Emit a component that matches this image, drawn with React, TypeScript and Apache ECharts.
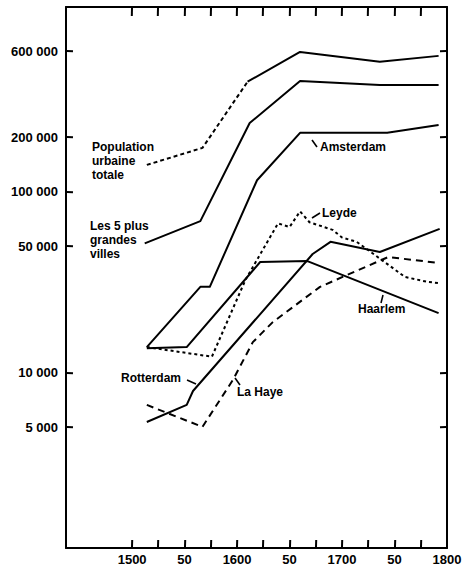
import React, { useEffect, useRef } from "react";
import * as echarts from "echarts";

// Population urbaine totale (dashed part, then solid part)
const totalDashedYears = [1514, 1567, 1610];
const totalDashedValues = [141000, 175000, 406000];
const totalYears = [1610, 1660, 1736, 1792];
const totalValues = [406000, 593000, 523000, 564000];

// Les 5 plus grandes villes
const fiveYears = [1512, 1565, 1612, 1660, 1736, 1792];
const fiveValues = [52000, 69000, 240000, 410000, 390000, 390000];

// Amsterdam
const amsYears = [1514, 1565, 1574, 1619, 1660, 1743, 1792];
const amsValues = [13900, 29900, 29900, 116000, 212000, 212000, 234000];

// Haarlem
const haaYears = [1514, 1552, 1622, 1667, 1792];
const haaValues = [13700, 13900, 41000, 41500, 21400];

// Leyde
const leyYears = [1514, 1576, 1608, 1639, 1650, 1660, 1669, 1691, 1700, 1714, 1738, 1760, 1782, 1792];
const leyValues = [13900, 12300, 32700, 67000, 64000, 78000, 68000, 61700, 56000, 53000, 42000, 33900, 31800, 31400];

// Rotterdam
const rotYears = [1514, 1552, 1558, 1672, 1689, 1736, 1793];
const rotValues = [5360, 6660, 7950, 45400, 53000, 46600, 62500];

// La Haye
const hayYears = [1514, 1567, 1596, 1615, 1634, 1679, 1744, 1792];
const hayValues = [6660, 5040, 9150, 14800, 19100, 29900, 43700, 40500];

// Axes
const xTickValues = [1500, 1525, 1550, 1575, 1600, 1625, 1650, 1675, 1700, 1725, 1750, 1775];
const xLabelValues = [1500, 1550, 1600, 1650, 1700, 1750, 1800];
const yTickValues = [5000, 10000, 50000, 100000, 200000, 600000];
const xMin = 1437;
const xMax = 1800;
const yMin = 1080;
const yMax = 1050000;

const pairs = (xs: number[], ys: number[]) => xs.map((x, i) => [x, ys[i]]);
const fmtY = (v: number) => String(Math.round(v)).replace(/\B(?=(\d{3})+(?!\d))/g, " ");
const fmtX = (v: number) => (Math.round(v) % 100 === 0 ? String(Math.round(v)) : "50");

const FONT = '"Liberation Sans", Arial, sans-serif';
const annFont = `bold 12px ${FONT}`;

function lineSeries(name: string, xs: number[], ys: number[], type: any, dash?: number[]) {
  return {
    name,
    type: "line",
    data: pairs(xs, ys),
    symbol: "none",
    lineStyle: { color: "#000", width: 2, type: dash ? dash : type, cap: "butt", join: "round" },
    z: 3,
  };
}

function txt(text: string, x: number, y: number) {
  return {
    type: "text",
    style: { text, x, y, font: annFont, fill: "#000", lineHeight: 14, textAlign: "left", align: "left", textVerticalAlign: "top", verticalAlign: "top" },
    z: 10,
  };
}

function seg(x1: number, y1: number, x2: number, y2: number, w: number) {
  return { type: "polyline", shape: { points: [[x1, y1], [x2, y2]] }, style: { stroke: "#000", lineWidth: w, fill: null }, z: 10 };
}

const annotations = [
  txt("Population\nurbaine\ntotale", 92, 140),
  txt("Amsterdam", 320, 140),
  seg(312, 140, 317, 147, 1.6),
  txt("Les 5 plus\ngrandes\nvilles", 90, 219),
  txt("Leyde", 322, 206),
  seg(312, 218, 320, 213, 1.6),
  txt("Haarlem", 358, 302),
  seg(383, 295, 381, 303, 1.6),
  txt("Rotterdam", 121, 371),
  seg(187, 380, 196, 384, 1.6),
  txt("La Haye", 237, 385),
  seg(235, 378, 240, 385, 1.6),
];

export default function App() {
  const ref = useRef<HTMLDivElement>(null);
  useEffect(() => {
    if (!ref.current) return;
    const chart = echarts.init(ref.current, undefined, { renderer: "svg" });
    const axisLine = { show: true, onZero: false, lineStyle: { color: "#000", width: 2 } };

    chart.setOption({
      animation: false,
      backgroundColor: "#fff",
      grid: { left: 66, right: 19, top: 7, bottom: 21, show: false },
      xAxis: [
        {
          type: "value", min: xMin, max: xMax, position: "bottom", axisLine,
          splitLine: { show: false }, axisTick: { show: false },
          axisLabel: { show: true, customValues: xLabelValues, formatter: (v: number) => fmtX(v), color: "#000", fontSize: 13, fontWeight: "bold", fontFamily: FONT, margin: 5 },
        },
        { type: "value", min: xMin, max: xMax, position: "top", axisLine, splitLine: { show: false }, axisTick: { show: false }, axisLabel: { show: false } },
      ],
      yAxis: [
        {
          type: "log", logBase: 10, min: yMin, max: yMax, position: "left", axisLine,
          splitLine: { show: false }, minorTick: { show: false }, axisTick: { show: false },
          axisLabel: { show: true, customValues: yTickValues, formatter: (v: number) => fmtY(v), color: "#000", fontSize: 13, fontWeight: "bold", fontFamily: FONT, margin: 8 },
        },
        { type: "log", logBase: 10, min: yMin, max: yMax, position: "right", axisLine, splitLine: { show: false }, minorTick: { show: false }, axisTick: { show: false }, axisLabel: { show: false } },
      ],
      series: [
        lineSeries("Population urbaine totale (a)", totalDashedYears, totalDashedValues, "dashed", [4, 3]),
        lineSeries("Population urbaine totale", totalYears, totalValues, "solid"),
        lineSeries("Les 5 plus grandes villes", fiveYears, fiveValues, "solid"),
        lineSeries("Amsterdam", amsYears, amsValues, "solid"),
        lineSeries("Haarlem", haaYears, haaValues, "solid"),
        lineSeries("Leyde", leyYears, leyValues, "dotted", [3, 3]),
        lineSeries("Rotterdam", rotYears, rotValues, "solid"),
        lineSeries("La Haye", hayYears, hayValues, "dashed", [7, 5]),
      ],
      graphic: annotations,
    });

    // Ticks on all four sides, positioned through the chart's own scales
    const toPx = (x: number, y: number) => chart.convertToPixel({ gridIndex: 0 }, [x, y]) as any;
    const ticks: any[] = [];
    xTickValues.forEach((v) => {
      const b = toPx(v, yMin);
      const t = toPx(v, yMax);
      const bx = Math.round(b[0]) + 0.5;
      const tx = Math.round(t[0]) + 0.5;
      ticks.push(seg(bx - 0.5, Math.round(b[1]) - 1, bx - 0.3, Math.round(b[1]) - 8, 2));
      ticks.push(seg(tx - 0.5, Math.round(t[1]) + 1, tx - 0.7, Math.round(t[1]) + 9, 2));
    });
    yTickValues.forEach((v) => {
      const l = toPx(xMin, v);
      const r = toPx(xMax, v);
      const ly = Math.round(l[1]);
      const ry = Math.round(r[1]);
      ticks.push(seg(Math.round(l[0]) + 1, ly, Math.round(l[0]) + 7, ly + 0.2, 2));
      ticks.push(seg(Math.round(r[0]) - 1, ry, Math.round(r[0]) - 7, ry + 0.2, 2));
    });
    chart.setOption({ graphic: [...annotations, ...ticks] });

    return () => chart.dispose();
  }, []);
  return <div ref={ref} style={{ position: "fixed", left: 0, top: 0, width: 466, height: 569, background: "#fff" }} />;
}
